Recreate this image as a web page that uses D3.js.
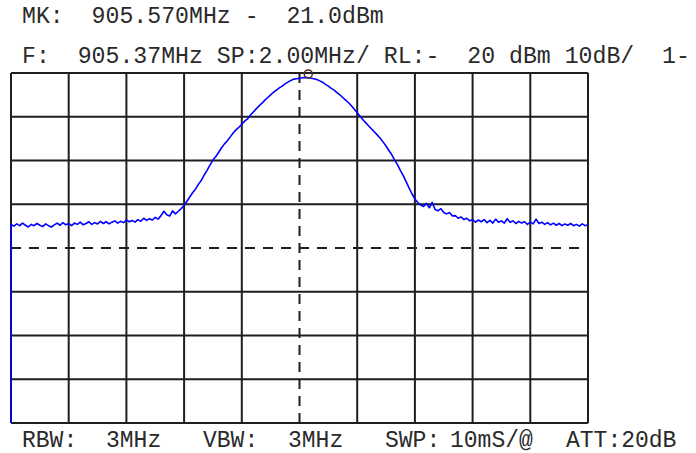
<!DOCTYPE html>
<html>
<head>
<meta charset="utf-8">
<script src="https://cdn.jsdelivr.net/npm/d3@7"></script>
<style>
  html, body { margin: 0; padding: 0; background: #fff; }
  svg { display: block; }
  text { font-family: "Liberation Mono", "Courier New", monospace; white-space: pre; }
</style>
</head>
<body>
<svg id="chart" width="696" height="453"></svg>
<script>
// ---- instrument settings ----
const centerFreq = 905.37;      // MHz
const spanPerDiv = 2.00;        // MHz / div
const refLevel = -20;           // dBm (top of screen)
const dbPerDiv = 10;            // dB / div
const hDivs = 10;
const vDivs = 8;
const sweepStep = 0.1;          // MHz between trace samples
const markerFreq = 905.570;
const markerLevel = -21.0;

// ---- header / footer texts ----
const headerLine1 = "MK:  905.570MHz -  21.0dBm";
const headerLine2 = "F:  905.37MHz SP:2.00MHz/ RL:-  20 dBm 10dB/  1-";
const footerLabels = ["RBW:", "3MHz", "VBW:", "3MHz", "SWP:", "10mS/@", "ATT:20dB"];

// ---- trace (dBm), one sample every sweepStep MHz from the left edge ----
const traceStartLevel = -100;
const traceLevels = [
  -54.6, -55.0, -54.5, -54.9, -54.3, -54.8, -55.2, -54.6, -54.9, -54.4,
  -54.8, -55.1, -54.5, -54.9, -55.2, -54.7, -54.3, -54.8, -54.2, -54.7,
  -54.4, -54.9, -54.3, -54.6, -54.1, -54.7, -54.4, -54.0, -54.6, -54.2,
  -54.5, -53.9, -54.4, -54.0, -54.5, -54.1, -53.8, -54.3, -53.9, -54.2,
  -53.6, -54.0, -53.7, -54.1, -53.5, -53.9, -53.2, -53.7, -53.3, -53.6,
  -53.0, -53.4, -52.6, -51.6, -52.4, -52.7, -51.5, -52.2, -51.6, -51.0,
  -50.3, -49.3, -48.3, -47.3, -46.5, -45.4, -44.5, -43.3, -42.2, -41.0,
  -39.9, -39.1, -38.1, -37.1, -36.2, -35.5, -34.6, -33.7, -33.0, -32.4,
  -31.7, -31.0, -30.5, -29.6, -28.9, -28.2, -27.5, -26.9, -26.2, -25.6,
  -25.0, -24.4, -23.9, -23.4, -23.0, -22.5, -22.1, -21.7, -21.4, -21.3,
  -21.2, -21.1, -21.0, -21.1, -21.2, -21.3, -21.5, -21.8, -22.1, -22.6,
  -23.0, -23.5, -23.9, -24.5, -25.0, -25.6, -26.2, -26.8, -27.5, -28.3,
  -29.1, -29.9, -30.7, -31.4, -32.1, -32.8, -33.5, -34.2, -34.9, -35.8,
  -36.7, -37.7, -38.7, -39.9, -41.0, -42.3, -43.5, -44.9, -46.3, -47.6,
  -48.8, -49.6, -50.2, -50.5, -49.8, -50.8, -49.6, -51.2, -51.5, -51.0,
  -51.9, -52.2, -51.9, -52.7, -52.6, -53.2, -52.9, -53.5, -53.2, -53.8,
  -53.5, -54.1, -53.6, -54.0, -53.5, -54.2, -53.7, -54.3, -53.4, -54.1,
  -53.8, -54.3, -53.3, -54.1, -53.8, -54.4, -53.9, -54.3, -54.0, -54.6,
  -54.1, -54.5, -53.4, -54.4, -54.1, -54.6, -54.2, -54.7, -54.3, -54.8,
  -54.4, -54.9, -54.5, -54.8, -54.4, -54.9, -54.6, -55.0, -54.5, -54.9,
  -54.7
];

// ---- layout ----
const svg = d3.select("#chart");
const plot = { left: 11, right: 588, top: 73, bottom: 423 };
const startFreq = centerFreq - spanPerDiv * hDivs / 2;
const stopFreq = centerFreq + spanPerDiv * hDivs / 2;
const bottomLevel = refLevel - dbPerDiv * vDivs;

const x = d3.scaleLinear().domain([startFreq, stopFreq]).range([plot.left, plot.right]);
const y = d3.scaleLinear().domain([bottomLevel, refLevel]).range([plot.bottom, plot.top]);

const gridColor = "#1f1f1f";
const textColor = "#2a2a2a";

// grid
const xGrid = d3.range(0, hDivs + 1).map(k => startFreq + k * spanPerDiv);
const yGrid = d3.range(0, vDivs + 1).map(k => refLevel - k * dbPerDiv);
const g = svg.append("g");

g.selectAll("line.v").data(xGrid).join("line")
  .attr("x1", d => x(d)).attr("x2", d => x(d))
  .attr("y1", plot.top).attr("y2", plot.bottom)
  .attr("stroke", gridColor).attr("stroke-width", 2)
  .attr("stroke-dasharray", (d, i) => i === hDivs / 2 ? "10,7" : null);

g.selectAll("line.h").data(yGrid).join("line")
  .attr("x1", plot.left).attr("x2", plot.right)
  .attr("y1", d => y(d)).attr("y2", d => y(d))
  .attr("stroke", gridColor).attr("stroke-width", 2)
  .attr("stroke-dasharray", (d, i) => i === vDivs / 2 ? "10,8" : null);

// trace
const tracePts = [[startFreq, traceStartLevel]].concat(
  traceLevels.map((v, i) => [startFreq + i * sweepStep, v]));
const line = d3.line().x(d => x(d[0])).y(d => y(d[1]));
svg.append("path").datum(tracePts)
  .attr("d", line)
  .attr("fill", "none")
  .attr("stroke", "#0000ff")
  .attr("stroke-width", 1.6)
  .attr("stroke-linejoin", "round");

// marker
svg.append("circle")
  .attr("cx", x(markerFreq) + 3)
  .attr("cy", y(markerLevel) - 3.5)
  .attr("r", 4)
  .attr("fill", "none")
  .attr("stroke", "#4a3020")
  .attr("stroke-width", 1.5);

// header
svg.append("text").attr("x", 22).attr("y", 23)
  .attr("font-size", 23.2).attr("fill", textColor).text(headerLine1);
svg.append("text").attr("x", 22).attr("y", 63)
  .attr("font-size", 23.2).attr("fill", textColor).text(headerLine2);

// footer
const footerX = [22, 106, 203, 288, 385, 450, 566];
svg.selectAll("text.foot").data(footerLabels).join("text")
  .attr("class", "foot")
  .attr("x", (d, i) => footerX[i]).attr("y", 447)
  .attr("font-size", 23).attr("fill", textColor)
  .text(d => d);
</script>
</body>
</html>
